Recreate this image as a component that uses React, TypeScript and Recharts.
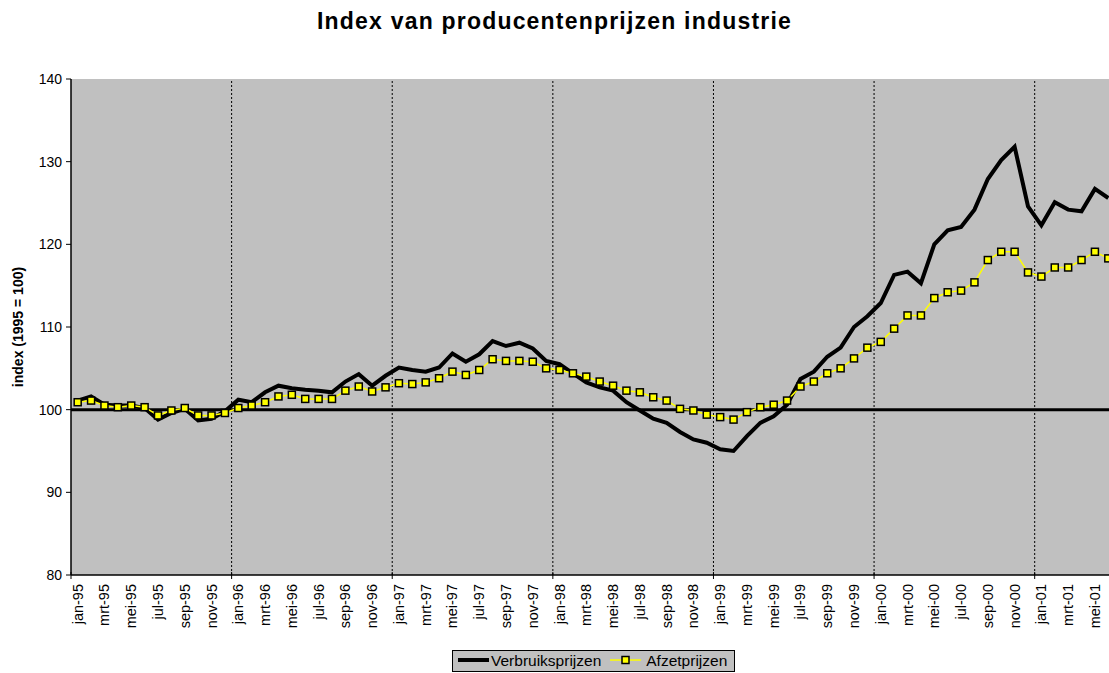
import React from 'react'
import { LineChart, Line, XAxis, YAxis, CartesianGrid, ReferenceLine } from 'recharts'

// month names (Dutch) and years on the category axis
const monthNames = ['jan', 'feb', 'mrt', 'apr', 'mei', 'jun', 'jul', 'aug', 'sep', 'okt', 'nov', 'dec']
const years = ['95', '96', '97', '98', '99', '00', '01']
const months: string[] = years.flatMap((y) => monthNames.map((m) => `${m}-${y}`)).slice(0, 78)

const verbruik = [
  101.1, 101.6, 100.6, 100.5, 100.5, 100.2, 98.8, 99.6, 100.1, 98.7, 98.9, 99.8,
  101.2, 100.9, 102.1, 102.9, 102.6, 102.4, 102.3, 102.1, 103.4, 104.3, 102.9, 104.1,
  105.1, 104.8, 104.6, 105.1, 106.8, 105.8, 106.7, 108.3, 107.7, 108.1, 107.4, 105.9,
  105.5, 104.4, 103.3, 102.7, 102.3, 100.9, 99.9, 98.9, 98.4, 97.3, 96.4, 96.0,
  95.2, 95.0, 96.8, 98.4, 99.2, 100.6, 103.7, 104.6, 106.4, 107.5, 110.0, 111.3,
  112.9, 116.3, 116.7, 115.3, 120.0, 121.7, 122.1, 124.2, 127.9, 130.2, 131.8, 124.6,
  122.3, 125.1, 124.2, 124.0, 126.7, 125.6
]

const afzet = [
  100.9, 101.1, 100.5, 100.3, 100.5, 100.3, 99.3, 99.9, 100.2, 99.3, 99.3, 99.6,
  100.2, 100.5, 100.9, 101.6, 101.8, 101.3, 101.3, 101.3, 102.3, 102.8, 102.2, 102.7,
  103.2, 103.1, 103.3, 103.8, 104.6, 104.2, 104.8, 106.1, 105.9, 105.9, 105.8, 105.0,
  104.8, 104.4, 104.0, 103.4, 102.9, 102.3, 102.1, 101.5, 101.1, 100.1, 99.9, 99.4,
  99.1, 98.8, 99.7, 100.3, 100.6, 101.1, 102.8, 103.4, 104.4, 105.0, 106.2, 107.5,
  108.2, 109.8, 111.4, 111.4, 113.5, 114.2, 114.4, 115.4, 118.1, 119.1, 119.1, 116.6,
  116.1, 117.2, 117.2, 118.1, 119.1, 118.3
]

const yTicks = [80, 90, 100, 110, 120, 130, 140]

const data = months.map((m, i) => ({ i, label: m, verbruik: verbruik[i], afzet: afzet[i] }))

// year boundaries (between dec and jan) and label positions (every 2nd month)
const yearBounds = Array.from({ length: 7 }, (_, k) => k * 12 - 0.5)
const labelTicks = months.map((_, i) => i).filter((i) => i % 2 === 0)
const xTicks = [...yearBounds, ...labelTicks].sort((a, b) => a - b)

const FONT = 'Liberation Sans, Arial, sans-serif'

const XTick = (props: any) => {
  const { x, y, payload } = props
  const v = payload.value
  if (!Number.isInteger(v)) {
    return <line x1={x} x2={x} y1={y - 3} y2={y + 4} stroke="#000" strokeWidth={1} />
  }
  const ty = y + 9
  return (
    <text
      x={x}
      y={ty}
      transform={`rotate(-90, ${x}, ${ty})`}
      textAnchor="end"
      dominantBaseline="central"
      fontFamily={FONT}
      fontSize={14.5}
      fill="#000"
    >
      {months[v]}
    </text>
  )
}

const Square = (props: any) => {
  const { cx, cy } = props
  if (cx == null || cy == null) return null
  return <rect x={cx - 3.5} y={cy - 3.5} width={7} height={7} fill="#FFFF00" stroke="#000" strokeWidth={1.5} />
}

const AxisTitle = () => (
  <text
    x={18}
    y={327}
    transform="rotate(-90, 18, 327)"
    textAnchor="middle"
    dominantBaseline="central"
    fontFamily={FONT}
    fontSize={14}
    fontWeight="bold"
    fill="#000"
  >
    index (1995 = 100)
  </text>
)

export default function App() {
  return (
    <div style={{ position: 'absolute', left: 0, top: 0, width: 1109, height: 673, overflow: 'hidden', background: '#fff' }}>
      <div
        style={{
          position: 'absolute',
          left: 0,
          top: 8,
          width: 1109,
          textAlign: 'center',
          fontFamily: FONT,
          fontWeight: 'bold',
          fontSize: 23,
          letterSpacing: 1.2,
          color: '#000'
        }}
      >
        Index van producentenprijzen industrie
      </div>
      <LineChart width={1115} height={645} data={data} margin={{ top: 79, right: 0, left: 0, bottom: 0 }}>
        <CartesianGrid fill="#C0C0C0" fillOpacity={1} stroke="none" horizontal={false} vertical={false} />
        <XAxis
          dataKey="i"
          type="number"
          domain={[-0.5, 77.5]}
          ticks={xTicks}
          interval={0}
          tickLine={false}
          tickSize={0}
          tickMargin={0}
          height={70}
          axisLine={{ stroke: '#000', strokeWidth: 1.5 }}
          tick={<XTick />}
        />
        <YAxis
          domain={[80, 140]}
          ticks={yTicks}
          interval={0}
          width={71}
          tickSize={5}
          tickMargin={4}
          axisLine={{ stroke: '#000', strokeWidth: 1.5 }}
          tickLine={{ stroke: '#000' }}
          tick={{ fill: '#000', fontSize: 14, fontFamily: FONT }}
          label={<AxisTitle />}
        />
        {yearBounds.slice(1).map((b) => (
          <ReferenceLine key={b} x={b} stroke="#000" strokeDasharray="2 2" strokeWidth={1} />
        ))}
        <ReferenceLine y={100} stroke="#000" strokeWidth={3} />
        <Line
          type="linear"
          dataKey="verbruik"
          stroke="#000"
          strokeWidth={4}
          dot={false}
          isAnimationActive={false}
        />
        <Line
          type="linear"
          dataKey="afzet"
          stroke="#FFFF00"
          strokeWidth={1.5}
          dot={<Square />}
          isAnimationActive={false}
        />
      </LineChart>
      <div
        style={{
          position: 'absolute',
          left: 452,
          top: 650,
          width: 281,
          height: 20,
          border: '1px solid #000',
          background: '#C0C0C0',
          fontFamily: FONT,
          fontSize: 15.5,
          color: '#000',
          display: 'flex',
          alignItems: 'center',
          whiteSpace: 'nowrap'
        }}
      >
        <svg width={38} height={20} style={{ flex: 'none' }}>
          <line x1={5} x2={36} y1={9} y2={9} stroke="#000" strokeWidth={4} />
        </svg>
        <span>Verbruiksprijzen</span>
        <svg width={45} height={20} style={{ flex: 'none' }}>
          <line x1={9} x2={40} y1={9} y2={9} stroke="#FFFF00" strokeWidth={1.5} />
          <rect x={21} y={5.5} width={7} height={7} fill="#FFFF00" stroke="#000" strokeWidth={1.5} />
        </svg>
        <span>Afzetprijzen</span>
      </div>
    </div>
  )
}
